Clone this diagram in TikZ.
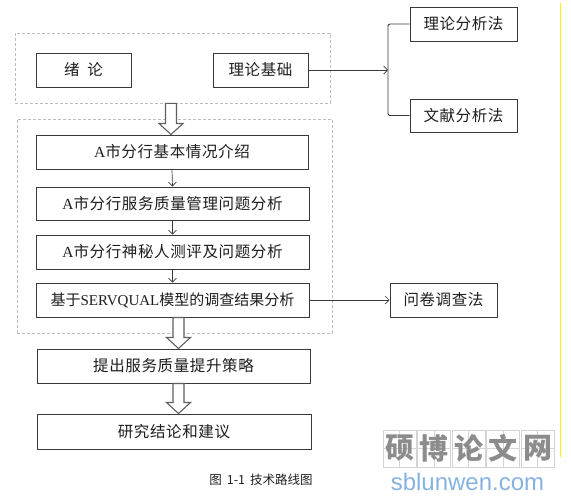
\documentclass[tikz,border=0pt]{standalone}
\usepackage{fontspec}
\setmainfont{Liberation Serif}
\newfontfamily\cjk[LetterSpace=4]{Noto Sans CJK SC}
\newfontfamily\cjkplain{Noto Sans CJK SC}
\newfontfamily\urlfont{Liberation Sans}
\usepackage{xcolor}
\usepackage{tikz}
\usetikzlibrary{calc, arrows.meta}
\definecolor{bInk}{HTML}{1E1E1E}
\definecolor{bLine}{HTML}{3A3A3A}
\definecolor{gLine}{HTML}{BDBDBD}
\definecolor{hLine}{HTML}{5F5F5F}
\definecolor{wGray}{HTML}{8C8C8C}
\definecolor{wGrid}{HTML}{D4D4D4}
\definecolor{wBlue}{HTML}{86B2E2}
\definecolor{sYellow}{HTML}{FFF200}
\tikzset{
  stage/.style={draw=bLine, line width=1pt, text=bInk, fill=white, minimum width=272pt,
    minimum height=34pt, inner sep=0pt, font=\cjk\fontsize{15.5}{16}\selectfont},
  method/.style={stage, minimum width=107pt},
  group/.style={draw=gLine, line width=0.7pt, dash pattern=on 3pt off 2pt, minimum width=315pt},
  flowarrow/.style={-{Straight Barb[length=4pt,width=8pt]}, line width=0.7pt, bLine},
  hollow/.style={draw=hLine, line width=1.1pt, fill=white, line join=miter},
  wmchar/.style={draw=wGrid, line width=0.6pt, minimum width=33pt, minimum height=37pt,
    inner sep=0pt, text=wGray, font=\cjkplain\bfseries\fontsize{29}{29}\selectfont,
    path picture={\draw[wGrid, line width=0.5pt]
      (path picture bounding box.north) -- (path picture bounding box.south)
      (path picture bounding box.west) -- (path picture bounding box.east);}},
}

\begin{document}
\begin{tikzpicture}[x=1pt, y=-1pt, >=Stealth]
  \useasboundingbox (0,0) rectangle (571,501);
  \node[group, minimum height=70pt] (grp1) at (172.5,68) {};
  \node[group, minimum height=214pt] (grp2) at (174.5,226) {};

  \node[stage, minimum width=95pt] (intro) at (83.5,70) {绪\hspace{8pt}论};
  \node[stage, minimum width=95pt] (theory) at (260.5,70) {理论基础};
  \node[method] (mth1) at (463.5,24) {理论分析法};
  \node[method, minimum height=33pt] (mth2) at (463.5,115.5) {文献分析法};

  \node[stage] (a1) at (172,152) {{\rmfamily A}市分行基本情况介绍};
  \node[stage, minimum width=273pt, minimum height=33pt] (a2) at (172.5,203.5) {{\rmfamily A}市分行服务质量管理问题分析};
  \node[stage, minimum width=273pt] (a3) at (172.5,252) {{\rmfamily A}市分行神秘人测评及问题分析};
  \node[stage, minimum width=273pt, font=\cjkplain\fontsize{15}{15}\selectfont] (a4) at (172.5,300) {基于{\rmfamily SERVQUAL}模型的调查结果分析};
  \node[method] (survey) at (443.5,300) {问卷调查法};
  \node[stage, minimum width=273pt] (plan) at (173.5,366) {提出服务质量提升策略};
  \node[stage, minimum width=274pt, minimum height=35pt] (concl) at (174,431.5) {研究结论和建议};

  \node[font=\cjkplain\fontsize{12.5}{13}\selectfont, text=bInk] (cap) at (261,480) {图\hspace{5pt}1-1\hspace{5pt}技术路线图};

  \coordinate (fork) at (388,70);
  \draw[flowarrow] (theory) -- (fork);
  \draw[bLine, line width=0.9pt, rounded corners=2pt]
    (mth1.west) -- (mth1.west -| fork) -- (mth2.west -| fork) -- (mth2.west);
  \foreach \s/\t in {a1/a2, a2/a3, a3/a4}
    \draw[flowarrow] (\s.south) -- (\t.north);
  \draw[flowarrow] (a4) -- (survey);

  \foreach \s/\t/\dx in {grp1/a1/-1.5, a4/plan/6, plan/concl/5}
    \draw[hollow] let \p1=($(\s.south)+(\dx,0)$), \p2=(\t.north) in
      (\x1-5.5pt,\y1) -- (\x1-5.5pt,\y2+11pt) -- (\x1-12pt,\y2+11pt) -- (\x1,\y2)
      -- (\x1+12pt,\y2+11pt) -- (\x1+5.5pt,\y2+11pt) -- (\x1+5.5pt,\y1) -- cycle;

  \foreach \c [count=\i] in {硕,博,论,文,网}
    \node[wmchar] (wm\i) at ({399.5+(\i-1)*34.5},448.5) {\c};
  \node[font=\urlfont\fontsize{24}{24}\selectfont, text=wBlue] (wmurl) at (467.5,482) {sblunwen.com};
  \draw[sYellow, line width=1pt] (560,3) -- (560,457);
\end{tikzpicture}
\end{document}
